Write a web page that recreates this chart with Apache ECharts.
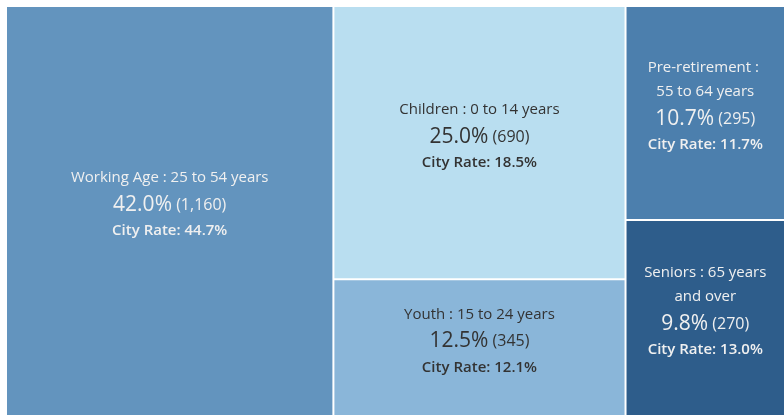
<!DOCTYPE html>
<html>
<head>
<meta charset="utf-8">
<script src="https://cdn.jsdelivr.net/npm/echarts@6/dist/echarts.min.js"></script>
<style>
  html, body {margin: 0; padding: 0; background: #fff;}
  #main {width: 784px; height: 415px;}
</style>
</head>
<body>
<div id="main"></div>
<script>
// age groups, shown in the order tableau lays them out
const categories = ['Working Age', 'Children', 'Youth', 'Pre-retirement', 'Seniors'];
const ranges = ['25 to 54 years', '0 to 14 years', '15 to 24 years', '\n55 to 64 years', '65 years\nand over'];
const counts = [1160, 690, 345, 295, 270];
const shares = [42.0, 25.0, 12.5, 10.7, 9.8];
const cityRates = [44.7, 18.5, 12.1, 11.7, 13.0];
// cells stacked in the same column
const columns = [[0], [1, 2], [3, 4]];

const colors = ['#6394be', '#b9def0', '#8ab6d9', '#4c7fad', '#2e5d8b'];
const textColors = ['#f0f0f0', '#333333', '#333333', '#f0f0f0', '#f0f0f0'];

const FONT = 'Open Sans';
const NAME_LH = 24, PCT_LH = 30, RATE_LH = 22;

// treemap labels sit at the top of the cell, so pad them down to the middle
function textHeight(i) {
  const nameLines = (categories[i] + ' : ' + ranges[i]).split('\n').length;
  return nameLines * NAME_LH + PCT_LH + RATE_LH;
}

function buildData(heights) {
  function leaf(i) {
    const pad = heights ? Math.max(0, Math.round((heights[i] - textHeight(i)) / 2) - 7) : 0;
    return {
      name: categories[i],
      value: counts[i],
      idx: i,
      itemStyle: {color: colors[i]},
      label: {color: textColors[i], padding: [pad, 0, 0, 0]}
    };
  }
  return columns.map(function (col, k) {
    if (col.length === 1) return leaf(col[0]);
    return {
      name: 'col' + k,
      value: col.reduce(function (s, i) { return s + counts[i]; }, 0),
      children: col.map(leaf)
    };
  });
}

const chart = echarts.init(document.getElementById('main'));
chart.setOption({
  animation: false,
  series: [{
    type: 'treemap',
    left: 7,
    top: 7,
    right: 0,
    bottom: 0,
    squareRatio: 1,
    roam: false,
    nodeClick: false,
    breadcrumb: {show: false},
    itemStyle: {borderWidth: 0, gapWidth: 2, borderColor: '#fff'},
    levels: [
      {itemStyle: {borderWidth: 0, gapWidth: 2, borderColor: '#fff'}},
      {itemStyle: {borderWidth: 0, gapWidth: 2, borderColor: '#fff'}},
      {itemStyle: {borderWidth: 0, gapWidth: 2, borderColor: '#fff'}}
    ],
    label: {
      show: true,
      position: 'inside',
      align: 'center',
      overflow: 'none',
      fontFamily: FONT,
      formatter: function (p) {
        const i = p.data.idx;
        const pct = shares[i].toFixed(1) + '%';
        const cnt = '(' + counts[i].toLocaleString('en-US') + ')';
        return '{n|' + categories[i] + ' : ' + ranges[i] + '}\n' +
          '{p|' + pct + '}{c| ' + cnt + '}\n' +
          '{r|City Rate: ' + cityRates[i].toFixed(1) + '%}';
      },
      rich: {
        n: {fontSize: 15, lineHeight: NAME_LH, fontFamily: FONT},
        p: {fontSize: 21, lineHeight: PCT_LH, fontFamily: FONT},
        c: {fontSize: 16, lineHeight: PCT_LH, fontFamily: FONT},
        r: {fontSize: 15, lineHeight: RATE_LH, fontWeight: 600, fontFamily: FONT}
      }
    },
    upperLabel: {show: false},
    data: buildData(null)
  }]
});

// read the cell heights from the laid-out tree
const heights = [];
chart.getModel().getSeriesByIndex(0).getData().tree.root.eachNode(function (node) {
  const opt = node.getModel().option;
  if (opt && opt.idx != null) heights[opt.idx] = node.getLayout().height;
});
chart.setOption({series: [{data: buildData(heights)}]});
</script>
</body>
</html>
